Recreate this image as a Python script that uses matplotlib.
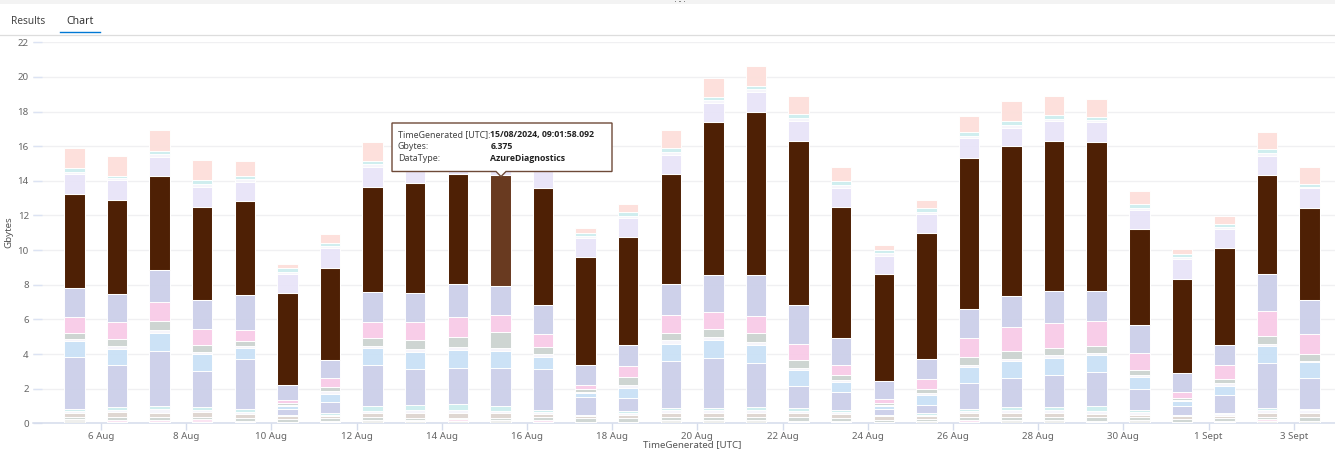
import matplotlib
matplotlib.use("Agg")
import matplotlib.pyplot as plt
import matplotlib.dates as mdates
import numpy as np
from datetime import datetime, timedelta
from matplotlib.lines import Line2D
from matplotlib.patches import Polygon, Rectangle

plt.rcParams['font.family'] = ['Noto Sans', 'DejaVu Sans']

W, H = 1335, 450

first_bin = datetime(2024, 8, 5, 9, 1, 58)
n_bars = 30
tick_dates = [datetime(2024, 8, 6) + timedelta(days=2 * i) for i in range(15)]
tick_labels = ['6 Aug', '8 Aug', '10 Aug', '12 Aug', '14 Aug', '16 Aug', '18 Aug', '20 Aug',
               '22 Aug', '24 Aug', '26 Aug', '28 Aug', '30 Aug', '1 Sept', '3 Sept']
y_ticks = list(range(0, 23, 2))

# Stack levels: the upper edge of each series (Gbytes)
base_top = [.22,.08,.08,.06,.08,.1,.06,.2,.12,.12,.18,.1,.06,.1,.2,.18,.18,.1,.06,.1,.14,.1,.18,.18,.1,.18,.1,.1,.12,.16]
pale_pink_top = [.24,.2,.2,.24,.16,.1,.14,.2,.2,.22,.18,.2,.06,.1,.2,.18,.18,.16,.16,.1,.14,.18,.18,.18,.16,.18,.1,.16,.22,.16]
thin_grey_top = [.38,.36,.34,.38,.3,.22,.28,.34,.32,.32,.32,.34,.3,.3,.34,.34,.36,.34,.3,.2,.26,.34,.36,.36,.34,.34,.22,.28,.36,.34]
taupe_top = [.62,.63,.62,.67,.54,.44,.44,.58,.62,.62,.58,.54,.44,.48,.62,.62,.6,.58,.52,.4,.4,.58,.6,.6,.56,.5,.4,.42,.62,.6]
cyan_low_bottom = [.7,.77,.81,.77,.65,.44,.5,.71,.79,.77,.71,.65,.44,.58,.77,.75,.79,.69,.63,.4,.5,.69,.75,.75,.69,.67,.4,.52,.78,.75]
cyan_low_top = [.85,.96,1.02,.96,.81,.5,.6,1.02,1.06,1.12,1,.79,.5,.71,.88,.88,.92,.88,.77,.46,.6,.85,.92,.92,1,.77,.46,.62,.9,.85]
peri_low_top = [3.8,3.35,4.17,3.04,3.71,.83,1.21,3.38,3.12,3.19,3.19,3.15,1.5,1.44,3.58,3.77,3.5,2.15,1.79,.81,1.04,2.33,2.6,2.81,2.96,2,1.02,1.62,3.48,2.62]
blue_top = [4.73,4.29,5.19,4,4.35,1,1.71,4.35,4.12,4.25,4.19,3.85,1.73,2.06,4.58,4.79,4.52,3.1,2.38,1,1.62,3.23,3.6,3.75,3.92,2.65,1.27,2.15,4.46,3.52]
grey_bottom = [4.87,4.46,5.38,4.13,4.46,1.08,1.87,4.46,4.27,4.42,4.35,4,1.83,2.21,4.81,4.96,4.67,3.17,2.48,1.06,1.73,3.38,3.73,3.92,4.04,2.77,1.33,2.31,4.6,3.62]
grey_top = [5.2,4.87,5.9,4.5,4.77,1.17,2.1,4.92,4.81,5,5.27,4.4,2,2.67,5.23,5.44,5.21,3.63,2.77,1.15,1.98,3.83,4.15,4.33,4.46,3.08,1.46,2.58,5.02,3.98]
pink_top = [6.15,5.83,7.02,5.46,5.4,1.35,2.6,5.87,5.83,6.12,6.25,5.13,2.23,3.33,6.25,6.4,6.17,4.56,3.35,1.38,2.54,4.9,5.56,5.77,5.88,4.06,1.79,3.37,6.46,5.15]
peri_top = [7.8,7.45,8.85,7.1,7.4,2.2,3.65,7.6,7.55,8.05,7.95,6.85,3.35,4.5,8.05,8.55,8.55,6.85,4.9,2.45,3.7,6.6,7.35,7.65,7.65,5.7,2.9,4.55,8.6,7.1]
brown_top = [13.26,12.91,14.26,12.51,12.81,7.53,8.99,13.66,13.86,14.41,14.31,13.61,9.59,10.73,14.41,17.38,17.96,16.31,12.47,8.61,11.01,15.34,16,16.32,16.22,11.24,8.36,10.1,14.36,12.45]
lav_top = [14.42,14.03,15.4,13.66,13.96,8.61,10.11,14.79,14.96,15.56,15.36,14.71,10.69,11.86,15.51,18.52,19.15,17.44,13.59,9.66,12.09,16.5,17.06,17.48,17.38,12.33,9.46,11.22,15.46,13.56]
cyan_high_bottom = [14.51,14.14,15.53,13.79,14.08,8.75,10.21,14.95,15.11,15.71,15.46,14.96,10.81,11.99,15.65,18.66,19.29,17.61,13.76,9.84,12.22,16.61,17.22,17.59,17.51,12.46,9.61,11.36,15.62,13.66]
cyan_high_top = [14.72,14.3,15.72,14.03,14.29,8.94,10.42,15.14,15.31,15.88,15.66,15.16,10.98,12.18,15.88,18.86,19.49,17.84,14.01,10.01,12.44,16.81,17.44,17.79,17.7,12.64,9.79,11.53,15.86,13.84]
salmon_top = [15.88,15.44,16.92,15.23,15.13,9.21,10.93,16.26,15.81,16.36,16.16,15.81,11.29,12.68,16.96,19.96,20.66,18.92,14.81,10.31,12.88,17.76,18.6,18.89,18.71,13.43,10.08,11.99,16.84,14.81]

PALE = '#F6F5FB'
levels = [
    (base_top, '#EFEFEC'), (pale_pink_top, '#FBE3F2'), (thin_grey_top, '#CDD5D2'),
    (taupe_top, '#DDD5D0'), (cyan_low_bottom, PALE), (cyan_low_top, '#CDEDEE'),
    (peri_low_top, '#CBCFE9'), (blue_top, '#C9E1F6'), (grey_bottom, PALE),
    (grey_top, '#CBD3D0'), (pink_top, '#F8CAE7'), (peri_top, '#CBCFE9'),
    (brown_top, '#4E2005'), (lav_top, '#E8E4F8'), (cyan_high_bottom, PALE),
    (cyan_high_top, '#CDEDEE'), (salmon_top, '#FDDFDA'),
]
highlight_index = 10
highlight_level = 12
highlight_colour = '#693A20'

fig = plt.figure(figsize=(W / 100, H / 100), dpi=100, facecolor='white')


def fx(px):
    return px / W


def fy(py):
    return 1 - py / H


ax_left, ax_right, ax_top, ax_bottom = 33, 1335, 42.3, 423.3
ax = fig.add_axes([fx(ax_left), fy(ax_bottom), fx(ax_right - ax_left), (ax_bottom - ax_top) / H])

dates = [first_bin + timedelta(days=i) for i in range(n_bars)]
x = mdates.date2num(dates)
tick_x = mdates.date2num(tick_dates)
px_per_day = (1293.7 - 101) / (tick_x[-1] - tick_x[0])
ax.set_xlim(tick_x[0] - (101 - ax_left) / px_per_day, tick_x[0] + (ax_right - 101) / px_per_day)
ax.set_ylim(0, 22)

bottom = np.zeros(n_bars)
for i, (tops, colour) in enumerate(levels):
    tops = np.array(tops)
    colours = [colour] * n_bars
    if i == highlight_level:
        colours[highlight_index] = highlight_colour
    ax.bar(x, tops - bottom, bottom=bottom, width=20.5 / px_per_day, color=colours,
           edgecolor='white', linewidth=0.75, alpha=0.94 if i != highlight_level else 1, zorder=3)
    bottom = tops

for s in ('top', 'right', 'left'):
    ax.spines[s].set_visible(False)
ax.spines['bottom'].set_color('#D5DCEC')
ax.spines['bottom'].set_linewidth(1.1)

ax.set_yticks(y_ticks)
ax.set_xticks(tick_x)
ax.set_xticklabels(tick_labels)
ax.grid(axis='y', color='#F0F0F2', linewidth=1.0, zorder=1)
ax.set_axisbelow(True)
ax.tick_params(axis='y', direction='in', length=6.5, width=1, color='#DCE3F3', pad=3,
               labelsize=7, labelcolor='#666666')
ax.tick_params(axis='x', direction='out', length=5, width=1, color='#D5DCEC', pad=1.2,
               labelsize=7, labelcolor='#666666')

fig.text(fx(8.5), fy(232), 'Gbytes', rotation=90, ha='center', va='center', fontsize=7, color='#555555')
fig.text(fx(692), fy(444.5), 'TimeGenerated [UTC]', ha='center', va='center', fontsize=7, color='#555555')

# Surrounding tab strip of the page
fig.add_artist(Rectangle((0, fy(3.5)), 1, 3.5 / H, transform=fig.transFigure, color='#F3F3F3', lw=0))
for dot_x in (675.5, 680, 684.5):
    fig.add_artist(Rectangle((fx(dot_x - 0.75), fy(2.2)), 1.5 / W, 1.2 / H, transform=fig.transFigure,
                             color='#888888', lw=0))
fig.add_artist(Line2D([0, 1], [fy(34.5)] * 2, transform=fig.transFigure, color='#DDDDDD', lw=0.9))
fig.add_artist(Line2D([fx(60), fx(100)], [fy(32)] * 2, transform=fig.transFigure, color='#0078D4', lw=1.0))
fig.text(fx(11), fy(21), 'Results', ha='left', va='center', fontsize=7.3, color='#444444')
fig.text(fx(66), fy(21), 'Chart', ha='left', va='center', fontsize=7.6, color='#333333')

# Hover tooltip
bx0, bx1, by0, by1 = 392, 612, 123, 171.5
tip_x, tip_y = 501, 176.5
outline = [(bx0, by0), (bx1, by0), (bx1, by1), (tip_x + 5, by1), (tip_x, tip_y), (tip_x - 5, by1), (bx0, by1)]
fig.add_artist(Polygon([(fx(a), fy(b)) for a, b in outline], closed=True, transform=fig.transFigure,
                       facecolor='white', edgecolor='#6E4A38', lw=1.0, zorder=10))
tip_rows = [('TimeGenerated [UTC]:', '15/08/2024, 09:01:58.092'), ('Gbytes:', '6.375'), ('DataType:', 'AzureDiagnostics')]
for row, (key, value) in enumerate(tip_rows):
    py = 134.7 + 12 * row
    fig.text(fx(398), fy(py), key, ha='left', va='center', fontsize=6.4, color='#444444', zorder=11)
    fig.text(fx(490.5), fy(py), value, ha='left', va='center', fontsize=6.3, color='#222222',
             family=['Open Sans', 'DejaVu Sans'], fontweight='bold', zorder=11)

fig.savefig('out.png', dpi=100, facecolor='white')
